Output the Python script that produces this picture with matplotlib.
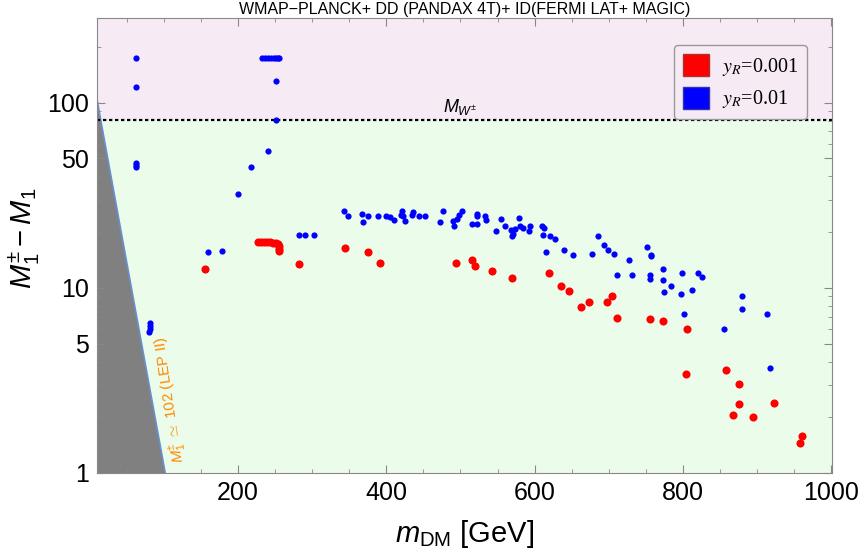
import matplotlib.pyplot as plt
from matplotlib.patches import Patch
from matplotlib.font_manager import FontProperties
import numpy as np

plt.rcParams['font.family'] = ['Liberation Sans', 'DejaVu Sans']
plt.rcParams['mathtext.fontset'] = 'custom'
plt.rcParams['mathtext.rm'] = 'Liberation Sans'
plt.rcParams['mathtext.it'] = 'Liberation Sans:italic'
plt.rcParams['mathtext.bf'] = 'Liberation Sans:bold'

# y_R = 0.01 (blue)
blue_m = [62, 62, 62, 62, 62, 80, 81, 82, 82,
          232, 236, 240, 244, 248, 251, 254, 256, 252, 252,
          240, 218, 200, 159, 179, 283, 291, 302,
          343, 349, 367, 369, 375, 389, 400, 405, 410, 421, 420, 423, 425,
          435, 436, 444, 452, 477, 473, 490, 492, 495, 498, 502, 516, 522,
          523, 523, 533, 534, 555, 548, 560, 568, 573, 579, 581, 585, 594,
          593, 569, 571, 610, 613, 612, 621, 628, 616, 639, 652, 686, 694,
          699, 707, 678, 727, 711, 732, 752, 757, 757, 755, 755, 773, 773,
          784, 774, 799, 797, 812, 821, 826, 801, 855, 880, 880, 913, 918]
blue_dm = [174, 121, 44.8, 46.0, 47.5, 5.8, 6.0, 6.2, 6.5,
           174, 174, 174, 174, 174, 174, 174, 174, 131, 81.2,
           55.2, 44.9, 32.3, 15.7, 15.8, 19.4, 19.4, 19.2,
           25.9, 24.3, 25.1, 22.7, 24.3, 24.3, 24.6, 24.2, 23.3, 25.9, 24.9, 24.4, 23.1,
           24.7, 25.8, 24.5, 24.6, 26.1, 22.6, 22.9, 21.5, 23.7, 24.7, 25.9, 22.2, 22.2,
           25.2, 24.3, 24.6, 23.2, 23.5, 20.4, 21.6, 20.6, 20.7, 23.8, 21.5, 21.1, 21.5,
           20.2, 19.1, 19.6, 21.5, 21.1, 19.4, 19.0, 18.4, 15.7, 16.0, 15.1, 19.0, 17.0,
           16.0, 15.3, 15.3, 14.2, 11.8, 11.8, 16.7, 15.1, 14.8, 11.8, 11.2, 12.7, 11.0,
           10.3, 9.5, 12.1, 9.3, 9.8, 12.1, 11.4, 7.2, 6.0, 9.0, 7.7, 7.2, 3.7]

# y_R = 0.001 (red)
red_m = [156, 227, 231, 235, 239, 243, 247, 251, 254, 255, 255, 255,
         282, 345, 375, 392, 494, 516, 520, 542, 570, 619, 636, 647,
         662, 674, 698, 705, 711, 755, 773, 806, 804, 858, 875, 875,
         867, 895, 923, 961, 958]
red_dm = [12.7, 17.6, 17.6, 17.6, 17.6, 17.6, 17.5, 17.5, 17.3, 16.8, 16.3, 15.8,
          13.5, 16.5, 15.6, 13.7, 13.7, 14.2, 13.2, 12.4, 11.3, 12.0, 10.3, 9.6,
          7.9, 8.4, 8.4, 9.0, 6.9, 6.8, 6.6, 6.0, 3.44, 3.59, 3.04, 2.37,
          2.06, 2.01, 2.38, 1.58, 1.45]

m_w = 80.4
lep_m = [10, 102]
lep_dm = [104, 1]
x_ticks = [200, 400, 600, 800, 1000]
y_ticks = [1, 5, 10, 50, 100]

fig = plt.figure(figsize=(8.65, 5.56), dpi=100)
ax = fig.add_axes([97 / 865, 83 / 556, 735 / 865, 455 / 556])
ax.set_yscale('log')
ax.set_xlim(10, 1001)
ax.set_ylim(1, 287)

pink = '#f6eaf5'
green = '#ebfdea'
ax.axhspan(m_w, 287, color=pink, zorder=0, lw=0)
ax.axhspan(1, m_w, color=green, zorder=0, lw=0)
ax.axhline(m_w, color='black', lw=1.6, ls=(0, (1.5, 1.2)), zorder=2)

# LEP II excluded region
ax.fill([lep_m[0], lep_m[0], lep_m[1]], [1, lep_dm[0], lep_dm[1]],
        color='#808080', lw=0, zorder=1)
ax.plot(lep_m, lep_dm, color='#6a8fcf', lw=1.2, zorder=1)

ax.scatter(blue_m, blue_dm, s=20, color='blue', lw=0, zorder=3)
ax.scatter(red_m, red_dm, s=34, color='red', lw=0, zorder=3)

ax.text(500, 84, r'$M_{W^{\pm}}$', ha='center', va='bottom', fontsize=13)
ax.text(110, 2.5, r'$M_1^{\pm}$ $\simeq$ 102 (LEP II)', color='#ff8a00',
        fontsize=11, rotation=98.5, rotation_mode='anchor',
        ha='center', va='center')

ax.set_xticks(x_ticks)
ax.set_xticks(np.arange(50, 1001, 50), minor=True)
ax.set_yticks(y_ticks)
ax.set_yticklabels([str(t) for t in y_ticks])
ax.yaxis.set_minor_locator(plt.matplotlib.ticker.LogLocator(subs=np.arange(2, 10)))
ax.yaxis.set_minor_formatter(plt.NullFormatter())
ax.tick_params(which='both', direction='in', top=True, right=True,
               color='#888888', labelsize=18, pad=6)
ax.tick_params(which='major', length=6)
ax.tick_params(which='minor', length=3)
for sp in ax.spines.values():
    sp.set_color('#888888')

ax.set_xlabel(r'$m_{\mathrm{DM}}$ [GeV]', fontsize=21)
ax.set_ylabel(r'$M_1^{\pm}-M_1$', fontsize=21)
ax.xaxis.set_label_coords(0.5007, -0.098)
ax.yaxis.set_label_coords(-0.075, 0.516)
ax.set_title('WMAP\u2212PLANCK+ DD (PANDAX 4T)+ ID(FERMI LAT+ MAGIC)',
             fontsize=11.5, pad=3)

leg_prop = FontProperties(family='Liberation Serif', size=14.5, math_fontfamily='stix')
handles = [Patch(facecolor='red', edgecolor='#aa3333', label='$y_R$=0.001'),
           Patch(facecolor='blue', edgecolor='#3333aa', label='$y_R$=0.01')]
leg = ax.legend(handles=handles, loc='upper right', bbox_to_anchor=(0.966, 0.941),
                borderaxespad=0, prop=leg_prop, handlelength=1.3, handleheight=1.3,
                facecolor=pink, edgecolor='#999999', framealpha=1, fancybox=True,
                labelspacing=0.45, handletextpad=0.6, borderpad=0.45)

fig.savefig('out.png', dpi=100)
